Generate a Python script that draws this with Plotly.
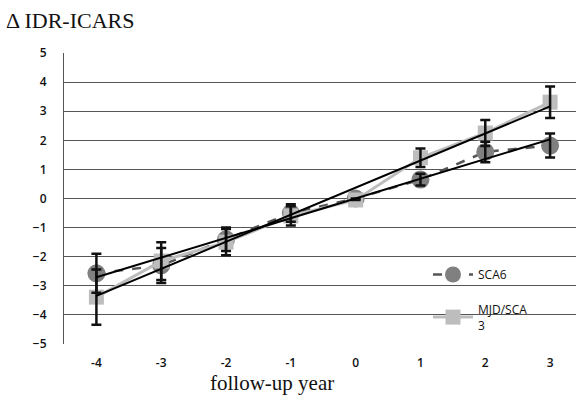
import numpy as np
import plotly.graph_objects as go

# follow-up years relative to baseline
years = [-4, -3, -2, -1, 0, 1, 2, 3]
tick_labels = ["-4", "-3", "-2", "-1", "0", "1", "2", "3"]

# mean change in IDR-ICARS and error per group
sca6_mean = [-2.57, -2.30, -1.40, -0.50, 0.00, 0.65, 1.60, 1.82]
sca6_err = [0.67, 0.60, 0.40, 0.30, 0.00, 0.20, 0.35, 0.41]
mjd_mean = [-3.39, -2.15, -1.50, -0.60, -0.05, 1.40, 2.25, 3.31]
mjd_err = [0.95, 0.65, 0.45, 0.33, 0.00, 0.32, 0.45, 0.54]

W, H = 576, 408
M_L, M_R, M_T, M_B = 64, 0, 53, 64
X_RANGE = [-4.5, 3.4]

sans = "Open Sans, Liberation Sans, Arial, sans-serif"
serif = "Liberation Serif, DejaVu Serif, serif"
tick_font = dict(family=sans, size=12, color="#111111", weight=600)

fig = go.Figure()

# group series
fig.add_trace(go.Scatter(
    x=years, y=sca6_mean, name="SCA6", mode="lines+markers", legendgroup="a",
    line=dict(color="#555555", width=2.5, dash="dash"),
    marker=dict(symbol="circle", size=18, color="#808080"),
))
fig.add_trace(go.Scatter(
    x=years, y=mjd_mean, name="MJD/SCA<br>3", mode="lines+markers", legendgroup="b",
    line=dict(color="#bdbdbd", width=3),
    marker=dict(symbol="square", size=15, color="#bdbdbd"),
))

# error bars drawn above the markers
for mean, err in ((sca6_mean, sca6_err), (mjd_mean, mjd_err)):
    fig.add_trace(go.Scatter(
        x=years, y=mean, mode="markers", showlegend=False, hoverinfo="skip",
        marker=dict(size=1, color="rgba(0,0,0,0)"),
        error_y=dict(type="data", array=err, visible=True,
                     color="#111111", thickness=2.5, width=5),
    ))

# linear trend lines fitted to each group
for mean in (sca6_mean, mjd_mean):
    slope, icpt = np.polyfit(years, mean, 1)
    xs = np.array([years[0], years[-1]])
    fig.add_trace(go.Scatter(
        x=xs, y=slope * xs + icpt, mode="lines", showlegend=False,
        hoverinfo="skip", line=dict(color="#000000", width=2),
    ))

plot_w = W - M_L - M_R
plot_h = H - M_T - M_B

fig.update_layout(
    width=W, height=H,
    margin=dict(l=M_L, r=M_R, t=M_T, b=M_B),
    paper_bgcolor="white", plot_bgcolor="white",
    showlegend=True,
    legend=dict(
        x=(428 - M_L) / plot_w, y=1 - (260 - M_T) / plot_h,
        xanchor="left", yanchor="top",
        bgcolor="rgba(0,0,0,0)",
        font=dict(family=sans, size=12, color="#111111"),
        tracegroupgap=16, itemwidth=40,
    ),
    xaxis=dict(
        range=X_RANGE, tickmode="array", tickvals=years, ticktext=tick_labels,
        showgrid=False, zeroline=False, showline=False,
        ticks="outside", ticklen=8, tickcolor="rgba(0,0,0,0)",
        tickfont=tick_font,
    ),
    yaxis=dict(
        range=[-5, 5], dtick=1, tick0=0,
        showgrid=True, gridcolor="#555555", gridwidth=1,
        zeroline=False, showline=True, linecolor="#555555", linewidth=1,
        ticks="outside", ticklen=14, tickcolor="rgba(0,0,0,0)",
        tickfont=tick_font,
    ),
    annotations=[
        dict(text="Δ IDR-ICARS", xref="paper", yref="paper",
             x=-(M_L - 4) / plot_w, y=1 + (M_T - 21) / plot_h,
             xanchor="left", yanchor="middle", showarrow=False,
             font=dict(family=serif, size=22, color="#111111")),
        dict(text="follow-up year", xref="paper", yref="paper",
             x=(272 - M_L) / plot_w, y=-(383 - (H - M_B)) / plot_h,
             xanchor="center", yanchor="middle", showarrow=False,
             font=dict(family=serif, size=21, color="#111111")),
    ],
)

fig.write_html("out.html")
